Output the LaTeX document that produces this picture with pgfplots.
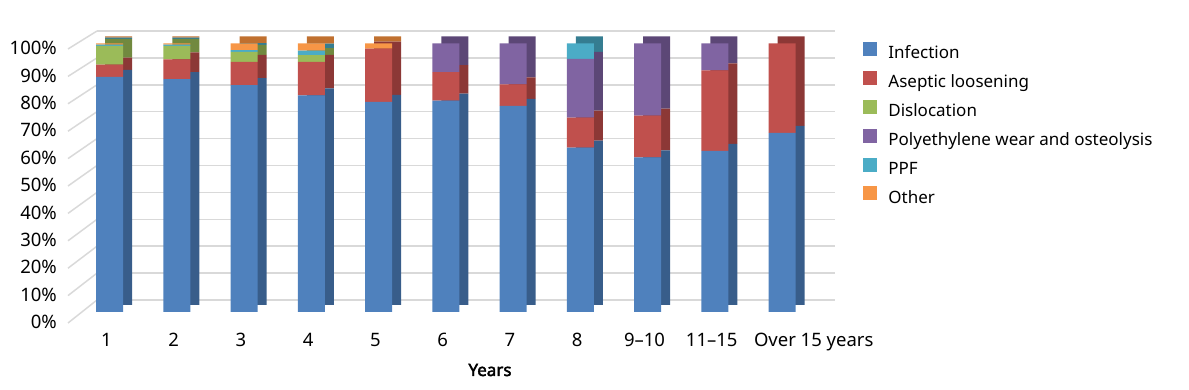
\documentclass[border=0pt]{standalone}
\usepackage{pgfplots}
\pgfplotsset{compat=1.18}
\usepackage{pgfplotstable}
\usepackage{fontspec}
\setmainfont{Noto Sans}[BoldFont={Noto Sans}, BoldFeatures={FakeBold=2.5}]
\definecolor{cInf}{HTML}{4F81BD}
\definecolor{cAse}{HTML}{C0504D}
\definecolor{cDis}{HTML}{9BBB59}
\definecolor{cPol}{HTML}{8064A2}
\definecolor{cPPF}{HTML}{4BACC6}
\definecolor{cOth}{HTML}{F79646}
\definecolor{dInf}{HTML}{385D8A}
\definecolor{dAse}{HTML}{8C3836}
\definecolor{dDis}{HTML}{71893F}
\definecolor{dPol}{HTML}{5C4776}
\definecolor{dPPF}{HTML}{357D91}
\definecolor{dOth}{HTML}{C0702F}
\definecolor{gridc}{HTML}{D9D9D9}

\pgfplotstableread{
x inf ase dis pol ppf oth
0 87.6 4.5 7.0 0 0.5 0.4
1 86.7 7.4 5.0 0 0.5 0.4
2 84.5 8.7 3.7 0 0.6 2.5
3 80.7 12.5 2.5 0 1.6 2.7
4 78.3 19.8 0 0 0 1.9
5 78.7 10.6 0 10.7 0 0
6 76.8 8.0 0 15.2 0 0
7 61.2 11.2 0 21.9 5.7 0
8 57.6 15.5 0 26.9 0 0
9 60.0 30.0 0 10.0 0 0
10 66.7 33.3 0 0 0 0
}\data

\pgfplotsset{
  barbase/.style={
    scale only axis, anchor=south west,
    width=807bp, height=268.5bp,
    xmin=-1, xmax=11, ymin=0, ymax=100,
    ybar stacked, bar width=27bp,
    axis line style={draw=none}, major tick length=0pt,
    ytick=\empty,
  },
  every tick label/.append style={font=\fontsize{18.5bp}{22bp}\selectfont},
}

\begin{document}
\begin{tikzpicture}[font=\fontsize{17bp}{20bp}\selectfont]
\useasboundingbox (0,0) rectangle (1189bp,390bp);

% back wall grid + legend
\begin{axis}[
  at={(97bp,90bp)}, anchor=south west, scale only axis,
  width=738bp, height=269bp,
  xmin=0, xmax=1, ymin=0, ymax=100,
  xtick=\empty, ytick={0,10,...,100}, yticklabels={},
  ymajorgrids, grid style={gridc, line width=1.5bp},
  axis line style={draw=none}, major tick length=0pt,
  legend style={at={(1,1)}, anchor=north west, xshift=28bp, yshift=-11bp,
    draw=none, fill=none, inner sep=0pt, outer sep=0pt,
    row sep=8.2bp,
    nodes={inner sep=0pt, text height=13bp, text depth=4bp},
    cells={anchor=west},
    /tikz/every odd column/.style={column sep=12bp}},
  legend cell align=left,
]
\addlegendimage{legend image code/.code={\fill[cInf] (0bp,-1bp) rectangle (13bp,12bp);}}
\addlegendentry{Infection}
\addlegendimage{legend image code/.code={\fill[cAse] (0bp,-1bp) rectangle (13bp,12bp);}}
\addlegendentry{Aseptic loosening}
\addlegendimage{legend image code/.code={\fill[cDis] (0bp,-1bp) rectangle (13bp,12bp);}}
\addlegendentry{Dislocation}
\addlegendimage{legend image code/.code={\fill[cPol] (0bp,-1bp) rectangle (13bp,12bp);}}
\addlegendentry{Polyethylene wear and osteolysis}
\addlegendimage{legend image code/.code={\fill[cPPF] (0bp,-1bp) rectangle (13bp,12bp);}}
\addlegendentry{PPF}
\addlegendimage{legend image code/.code={\fill[cOth] (0bp,-1bp) rectangle (13bp,12bp);}}
\addlegendentry{Other}
\end{axis}

% side wall lines
\foreach \i in {0,...,10}{
  \draw[gridc, line width=1.5bp] (68bp,{(67+27.4*\i)*1bp}) -- (97bp,{(90+26.9*\i)*1bp});
}

% y tick labels
\begin{axis}[
  at={(60bp,68bp)}, anchor=south west, scale only axis,
  width=5bp, height=274bp,
  xmin=0, xmax=1, ymin=0, ymax=100,
  xtick=\empty, ytick={0,10,...,100},
  yticklabels={0\%,10\%,20\%,30\%,40\%,50\%,60\%,70\%,80\%,90\%,100\%},
  yticklabel style={anchor=east, inner sep=0pt, xshift=-3bp},
  axis line style={draw=none}, major tick length=0pt,
]
\addplot[draw=none] coordinates {(0,0)};
\end{axis}

% bar side/top faces (depth)
\begin{axis}[barbase, at={(51.25bp,85bp)}, xtick=\empty]
\addplot[fill=dInf, draw=none] table[x=x, y=inf] {\data};
\addplot[fill=dAse, draw=none] table[x=x, y=ase] {\data};
\addplot[fill=dDis, draw=none] table[x=x, y=dis] {\data};
\addplot[fill=dPol, draw=none] table[x=x, y=pol] {\data};
\addplot[fill=dPPF, draw=none] table[x=x, y=ppf] {\data};
\addplot[fill=dOth, draw=none] table[x=x, y=oth] {\data};
\end{axis}

% bar front faces
\begin{axis}[barbase, at={(42.25bp,78bp)},
  xtick={0,...,10},
  xticklabels={1,2,3,4,5,6,7,8,9–10,11–15,\makebox[0pt][l]{\hspace{-25bp}Over 15 years}},
  xticklabel style={anchor=north, yshift=-18bp, xshift=-3bp},
  xlabel={\textbf{Years}},
  xlabel style={at={(axis description cs:0.5548,0)}, anchor=center, yshift=-58bp},
]
\addplot[fill=cInf, draw=none] table[x=x, y=inf] {\data};
\addplot[fill=cAse, draw=none] table[x=x, y=ase] {\data};
\addplot[fill=cDis, draw=none] table[x=x, y=dis] {\data};
\addplot[fill=cPol, draw=none] table[x=x, y=pol] {\data};
\addplot[fill=cPPF, draw=none] table[x=x, y=ppf] {\data};
\addplot[fill=cOth, draw=none] table[x=x, y=oth] {\data};
\end{axis}
\end{tikzpicture}
\end{document}
